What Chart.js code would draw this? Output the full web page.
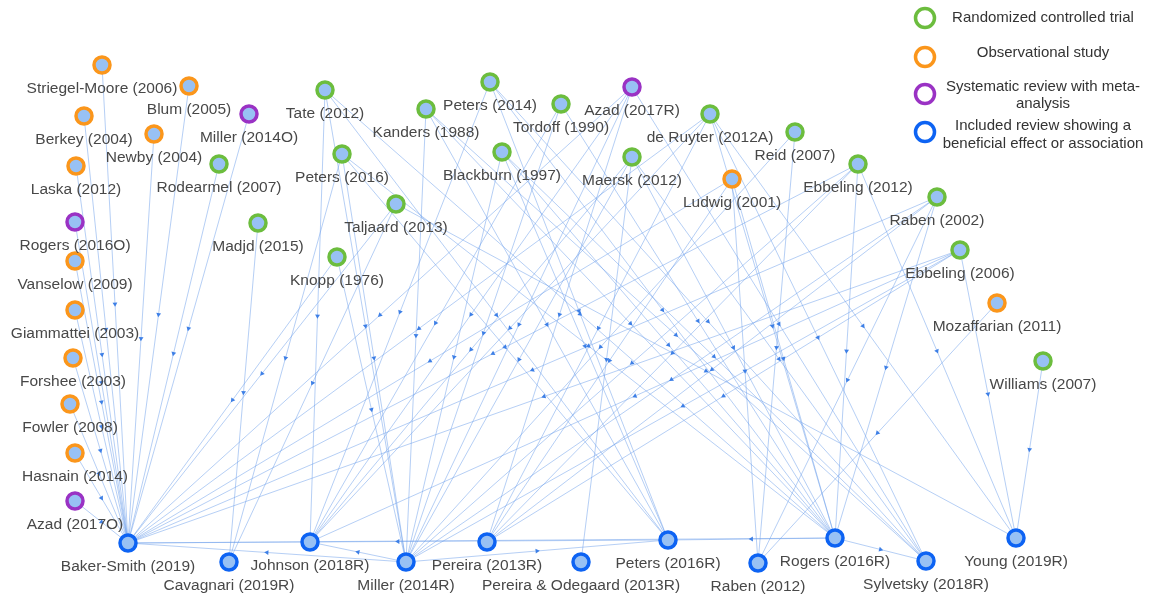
<!DOCTYPE html>
<html>
<head>
<meta charset="utf-8">
<script src="https://cdn.jsdelivr.net/npm/chart.js@4.4.1/dist/chart.umd.min.js"></script>
<style>
  html, body { margin: 0; padding: 0; background: #fff; }
  #wrap { width: 1150px; height: 596px; }
</style>
</head>
<body>
<div id="wrap"><canvas id="net"></canvas></div>
<script>
// nodes of the citation network (x, y)
const nodeIds = ['SM06', 'BL05', 'BE04', 'MI14O', 'NE04', 'LA12', 'RD07', 'RO16O', 'MA15', 'VA09',
  'GI03', 'FS03', 'FW08', 'HA14', 'AZ17O', 'TA12', 'PE16', 'TJ13', 'KN76', 'KA88',
  'PE14', 'TO90', 'BB97', 'AZ17R', 'DR12', 'MK12', 'LU01', 'RE07', 'EB12', 'RA02',
  'EB06', 'MZ11', 'WI07', 'BS19', 'CV19', 'JO18', 'MR14', 'PR13', 'PO13', 'PT16',
  'RB12', 'RG16', 'SY18', 'YG19'];
const nodeLabels = ['Striegel-Moore (2006)', 'Blum (2005)', 'Berkey (2004)', 'Miller (2014O)', 'Newby (2004)',
  'Laska (2012)', 'Rodearmel (2007)', 'Rogers (2016O)', 'Madjd (2015)', 'Vanselow (2009)',
  'Giammattei (2003)', 'Forshee (2003)', 'Fowler (2008)', 'Hasnain (2014)', 'Azad (2017O)',
  'Tate (2012)', 'Peters (2016)', 'Taljaard (2013)', 'Knopp (1976)', 'Kanders (1988)',
  'Peters (2014)', 'Tordoff (1990)', 'Blackburn (1997)', 'Azad (2017R)', 'de Ruyter (2012A)',
  'Maersk (2012)', 'Ludwig (2001)', 'Reid (2007)', 'Ebbeling (2012)', 'Raben (2002)',
  'Ebbeling (2006)', 'Mozaffarian (2011)', 'Williams (2007)', 'Baker-Smith (2019)', 'Cavagnari (2019R)',
  'Johnson (2018R)', 'Miller (2014R)', 'Pereira (2013R)', 'Pereira & Odegaard (2013R)', 'Peters (2016R)',
  'Raben (2012)', 'Rogers (2016R)', 'Sylvetsky (2018R)', 'Young (2019R)'];
const nodeX = [102, 189, 84, 249, 154, 76, 219, 75, 258, 75,
  75, 73, 70, 75, 75, 325, 342, 396, 337, 426,
  490, 561, 502, 632, 710, 632, 732, 795, 858, 937,
  960, 997, 1043, 128, 229, 310, 406, 487, 581, 668,
  758, 835, 926, 1016];
const nodeY = [65, 86, 116, 114, 134, 166, 164, 222, 223, 261,
  310, 358, 404, 453, 501, 90, 154, 204, 257, 109,
  82, 104, 152, 87, 114, 157, 179, 132, 164, 197,
  250, 303, 361, 543, 562, 542, 562, 542, 562, 540,
  563, 538, 561, 538];
const nodeKind = ['obs', 'obs', 'obs', 'meta', 'obs', 'obs', 'rct', 'meta', 'rct', 'obs',
  'obs', 'obs', 'obs', 'obs', 'meta', 'rct', 'rct', 'rct', 'rct', 'rct',
  'rct', 'rct', 'rct', 'meta', 'rct', 'rct', 'obs', 'rct', 'rct', 'rct',
  'rct', 'obs', 'rct', 'rev', 'rev', 'rev', 'rev', 'rev', 'rev', 'rev',
  'rev', 'rev', 'rev', 'rev'];

// citation links: [study, review that includes it]
const edges = [
  ['SM06', 'BS19'], ['BE04', 'BS19'], ['LA12', 'BS19'], ['RO16O', 'BS19'], ['VA09', 'BS19'],
  ['GI03', 'BS19'], ['FS03', 'BS19'], ['FW08', 'BS19'], ['HA14', 'BS19'], ['AZ17O', 'BS19'],
  ['BL05', 'BS19'], ['NE04', 'BS19'], ['MI14O', 'BS19'], ['RD07', 'BS19'], ['KN76', 'BS19'],
  ['TJ13', 'BS19'], ['AZ17R', 'BS19'], ['DR12', 'BS19'], ['LU01', 'BS19'], ['EB12', 'BS19'],
  ['RA02', 'BS19'], ['EB06', 'BS19'], ['MR14', 'BS19'], ['PT16', 'BS19'], ['RG16', 'BS19'],
  ['MA15', 'CV19'], ['PE16', 'CV19'], ['TJ13', 'CV19'],
  ['TA12', 'JO18'], ['PE14', 'JO18'], ['TO90', 'JO18'], ['AZ17R', 'JO18'], ['MK12', 'JO18'],
  ['DR12', 'JO18'], ['EB06', 'JO18'], ['MR14', 'JO18'],
  ['TA12', 'MR14'], ['KA88', 'MR14'], ['KN76', 'MR14'], ['TO90', 'MR14'], ['BB97', 'MR14'],
  ['AZ17R', 'MR14'], ['MK12', 'MR14'], ['RE07', 'MR14'], ['EB12', 'MR14'], ['RA02', 'MR14'],
  ['EB06', 'MR14'], ['PE16', 'MR14'],
  ['DR12', 'PR13'], ['LU01', 'PR13'], ['EB12', 'PR13'], ['RA02', 'PR13'], ['EB06', 'PR13'],
  ['AZ17R', 'PR13'],
  ['MK12', 'PO13'],
  ['TA12', 'PT16'], ['KA88', 'PT16'], ['PE16', 'PT16'], ['BB97', 'PT16'], ['PE14', 'PT16'],
  ['MR14', 'PT16'], ['RG16', 'PT16'],
  ['RE07', 'RB12'], ['LU01', 'RB12'], ['RA02', 'RB12'], ['MZ11', 'RB12'],
  ['TA12', 'RG16'], ['PE16', 'RG16'], ['KA88', 'RG16'], ['PE14', 'RG16'], ['BB97', 'RG16'],
  ['TO90', 'RG16'], ['MK12', 'RG16'], ['DR12', 'RG16'], ['LU01', 'RG16'], ['RA02', 'RG16'],
  ['EB12', 'RG16'],
  ['PE14', 'SY18'], ['BB97', 'SY18'], ['AZ17R', 'SY18'], ['DR12', 'SY18'], ['MK12', 'SY18'],
  ['KA88', 'SY18'], ['RG16', 'SY18'],
  ['DR12', 'YG19'], ['EB12', 'YG19'], ['EB06', 'YG19'], ['WI07', 'YG19'], ['TJ13', 'YG19']
];

const legendKinds = ['rct', 'obs', 'meta', 'rev'];
const legendTexts = [
  ['Randomized controlled trial'],
  ['Observational study'],
  ['Systematic review with meta-', 'analysis'],
  ['Included review showing a', 'beneficial effect or association']
];

const kindColor = { rct: '#6cbd3e', obs: '#fb961b', meta: '#9a32c4', rev: '#0d63f3' };

const pos = id => {
  const i = nodeIds.indexOf(id);
  return { x: nodeX[i], y: nodeY[i] };
};

// one dataset per link
const edgeSets = edges.map(([a, b]) => ({
  data: [pos(a), pos(b)],
  showLine: true,
  borderColor: 'rgba(110, 160, 235, 0.5)',
  borderWidth: 1,
  pointRadius: 0,
  order: 3
}));

// arrow heads half way along each link
const arrowPts = edges.map(([a, b]) => {
  const p = pos(a), q = pos(b);
  return { x: (p.x + q.x) / 2, y: (p.y + q.y) / 2 };
});
const arrowRot = edges.map(([a, b]) => {
  const p = pos(a), q = pos(b);
  return Math.atan2(q.y - p.y, q.x - p.x) * 180 / Math.PI + 90;
});

const textPlugin = {
  id: 'netText',
  afterDatasetsDraw(chart) {
    const { ctx, scales: { x, y } } = chart;
    ctx.save();
    ctx.textAlign = 'center';
    ctx.textBaseline = 'middle';
    ctx.fillStyle = '#484848';
    ctx.font = '15.5px "Liberation Sans", Arial, sans-serif';
    nodeLabels.forEach((t, i) => {
      ctx.fillText(t, x.getPixelForValue(nodeX[i]), y.getPixelForValue(nodeY[i]) + 24);
    });

    // legend
    const circY = [18, 57, 94, 132];
    const textY = [[18], [53], [87, 104], [126, 144]];
    ctx.font = '15px "Liberation Sans", Arial, sans-serif';
    legendKinds.forEach((k, i) => {
      ctx.beginPath();
      ctx.arc(925, circY[i], 9.5, 0, Math.PI * 2);
      ctx.fillStyle = '#fff';
      ctx.fill();
      ctx.lineWidth = 3.5;
      ctx.strokeStyle = kindColor[k];
      ctx.stroke();
      ctx.fillStyle = '#333';
      legendTexts[i].forEach((line, j) => ctx.fillText(line, 1043, textY[i][j]));
    });
    ctx.restore();
  }
};

new Chart(document.getElementById('net'), {
  type: 'scatter',
  data: {
    datasets: [
      {
        data: nodeX.map((v, i) => ({ x: v, y: nodeY[i] })),
        pointRadius: 8,
        pointBorderWidth: 3.5,
        pointBackgroundColor: '#98c1f4',
        pointBorderColor: nodeKind.map(k => kindColor[k]),
        order: 0
      },
      {
        data: arrowPts,
        pointStyle: 'triangle',
        pointRadius: 2.8,
        pointBorderWidth: 0,
        pointBackgroundColor: '#3d7fe6',
        rotation: arrowRot,
        order: 1
      },
      ...edgeSets
    ]
  },
  options: {
    responsive: true,
    maintainAspectRatio: false,
    animation: false,
    layout: { padding: 0, autoPadding: false },
    scales: {
      x: { type: 'linear', min: 0, max: 1150, display: false },
      y: { type: 'linear', min: 0, max: 596, reverse: true, display: false }
    },
    plugins: {
      legend: { display: false },
      tooltip: { enabled: false }
    }
  },
  plugins: [textPlugin]
});
</script>
</body>
</html>
